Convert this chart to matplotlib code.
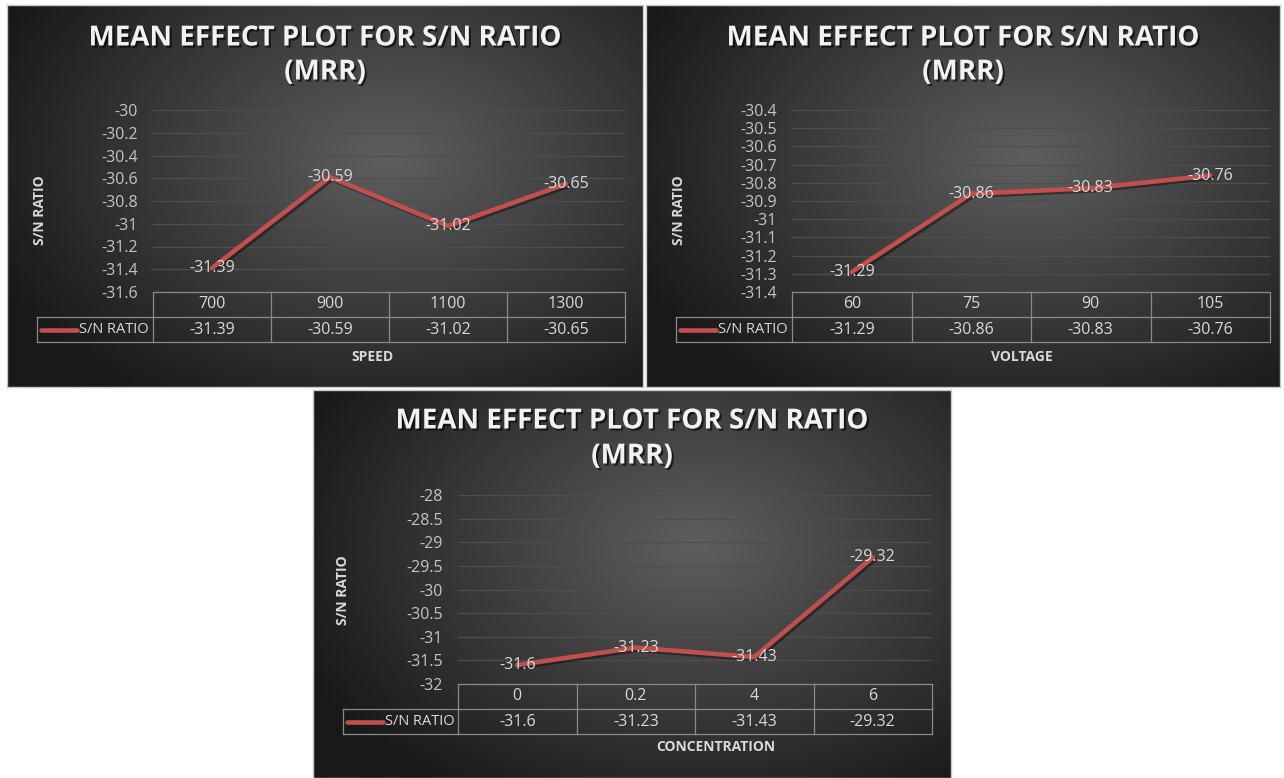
import numpy as np
import matplotlib.pyplot as plt
from matplotlib import patheffects as pe
from matplotlib.lines import Line2D
from matplotlib.transforms import blended_transform_factory

plt.rcParams['font.family'] = ['Open Sans', 'DejaVu Sans']

# data
speed_levels = ['700', '900', '1100', '1300']
speed_sn = [-31.39, -30.59, -31.02, -30.65]
speed_ticks = [-31.6, -31.4, -31.2, -31.0, -30.8, -30.6, -30.4, -30.2, -30.0]

voltage_levels = ['60', '75', '90', '105']
voltage_sn = [-31.29, -30.86, -30.83, -30.76]
voltage_ticks = [-31.4, -31.3, -31.2, -31.1, -31.0, -30.9, -30.8, -30.7, -30.6, -30.5, -30.4]

conc_levels = ['0', '0.2', '4', '6']
conc_sn = [-31.6, -31.23, -31.43, -29.32]
conc_ticks = [-32, -31.5, -31, -30.5, -30, -29.5, -29, -28.5, -28]

title_txt = ['MEAN EFFECT PLOT FOR S/N RATIO', '(MRR)']
series_name = 'S/N RATIO'

W, H = 1284, 778
fig = plt.figure(figsize=(W / 100, H / 100), dpi=100)
fig.patch.set_facecolor('white')

RED = '#c0504d'
TXT = '#d9d9d9'
GRID = '#4e4e4e'
TABLE = '#8a8a8a'


def fx(x):
    return x / W


def fy(y):
    return 1 - y / H


def panel(box, plot, leg_x0, levels, vals, ticks, xlabel, xlab_xy, ylab_xy, title_y):
    x0, y0, x1, y1 = box
    bg = fig.add_axes([fx(x0), fy(y1), (x1 - x0) / W, (y1 - y0) / H])
    yy, xx = np.mgrid[0:1:300j, 0:1:500j]
    r = np.sqrt(((xx - 0.6) / 0.75) ** 2 + ((yy - 0.4) / 0.85) ** 2)
    v = np.clip(0.37 - 0.3 * r, 0.1, 0.4)
    bg.imshow(v, cmap='gray', vmin=0, vmax=1, extent=[0, 1, 0, 1],
              aspect='auto', origin='upper', interpolation='bilinear')
    bg.set_xticks([])
    bg.set_yticks([])
    for s in bg.spines.values():
        s.set_color('#c8c8c8')
        s.set_linewidth(1)

    # titles
    cx = (x0 + x1) / 2
    for t, ty in zip(title_txt, title_y):
        fig.text(fx(cx), fy(ty), t, ha='center', va='center', fontsize=20,
                 fontweight='bold', color='#f2f2f2',
                 path_effects=[pe.withSimplePatchShadow(offset=(1.5, -1.5),
                                                        shadow_rgbFace='black', alpha=0.6)])

    px0, py0, px1, py1 = plot
    ax = fig.add_axes([fx(px0), fy(py1), (px1 - px0) / W, (py1 - py0) / H])
    ax.patch.set_alpha(0)
    xs = np.arange(len(levels))
    ax.plot(xs, vals, color=RED, lw=3.3, solid_capstyle='round',
            path_effects=[pe.SimpleLineShadow(offset=(1.5, -1.5), alpha=0.4, shadow_color='black'),
                          pe.Normal()])
    for xv, yv in zip(xs, vals):
        ax.text(xv, yv, f'{yv:g}', ha='center', va='center', fontsize=11.5, color=TXT)
    ax.set_xlim(-0.5, len(levels) - 0.5)
    ax.set_ylim(ticks[0], ticks[-1])
    ax.set_yticks(ticks)
    ax.set_yticklabels([f'{round(t, 2):g}' for t in ticks])
    ax.set_xticks([])
    ax.tick_params(axis='y', length=0, pad=11, labelcolor='#c4c4c4', labelsize=11.5)
    ax.yaxis.grid(True, color=GRID, lw=0.9)
    for s in ax.spines.values():
        s.set_visible(False)

    # data table under the axis
    row = 25
    tr = blended_transform_factory(ax.transData, fig.transFigure)
    edges = [px0 + i * (px1 - px0) / len(levels) for i in range(len(levels) + 1)]
    kw = dict(color=TABLE, lw=0.9)
    fig.add_artist(Line2D([fx(px0), fx(px1)], [fy(py1), fy(py1)], **kw))
    for k in (1, 2):
        fig.add_artist(Line2D([fx(leg_x0), fx(px1)], [fy(py1 + k * row)] * 2, **kw))
    for e in edges:
        fig.add_artist(Line2D([fx(e), fx(e)], [fy(py1), fy(py1 + 2 * row)], **kw))
    fig.add_artist(Line2D([fx(leg_x0)] * 2, [fy(py1 + row), fy(py1 + 2 * row)], **kw))
    for xv, lv, yv in zip(xs, levels, vals):
        ax.text(xv, fy(py1 + row / 2), lv, transform=tr, ha='center', va='center',
                fontsize=11.5, color=TXT)
        ax.text(xv, fy(py1 + 1.5 * row), f'{yv:g}', transform=tr, ha='center',
                va='center', fontsize=11.5, color=TXT)
    ly = fy(py1 + 1.5 * row)
    fig.add_artist(Line2D([fx(leg_x0 + 4), fx(leg_x0 + 40)], [ly, ly], color=RED, lw=3.3,
                          solid_capstyle='round'))
    fig.text(fx(leg_x0 + 42), ly, series_name, ha='left', va='center', fontsize=10.5,
             color=TXT)

    fig.text(fx(xlab_xy[0]), fy(xlab_xy[1]), xlabel, ha='center', va='center',
             fontsize=10, fontweight='bold', color=TXT)
    fig.text(fx(ylab_xy[0]), fy(ylab_xy[1]), 'S/N RATIO', ha='center', va='center',
             rotation=90, fontsize=10, fontweight='bold', color=TXT)


panel((7, 5, 643, 387), (153, 110, 625, 292), 37, speed_levels, speed_sn, speed_ticks,
      'SPEED', (372, 357), (40, 210), (38, 72))
panel((646, 5, 1280, 387), (792, 110, 1270, 292), 676, voltage_levels, voltage_sn,
      voltage_ticks, 'VOLTAGE', (1022, 357), (679, 210), (38, 72))
panel((313, 390, 951, 778), (458, 495, 932, 684), 343, conc_levels, conc_sn, conc_ticks,
      'CONCENTRATION', (716, 747), (343, 590), (421, 456))

fig.savefig('out.png', dpi=100, facecolor='white')
